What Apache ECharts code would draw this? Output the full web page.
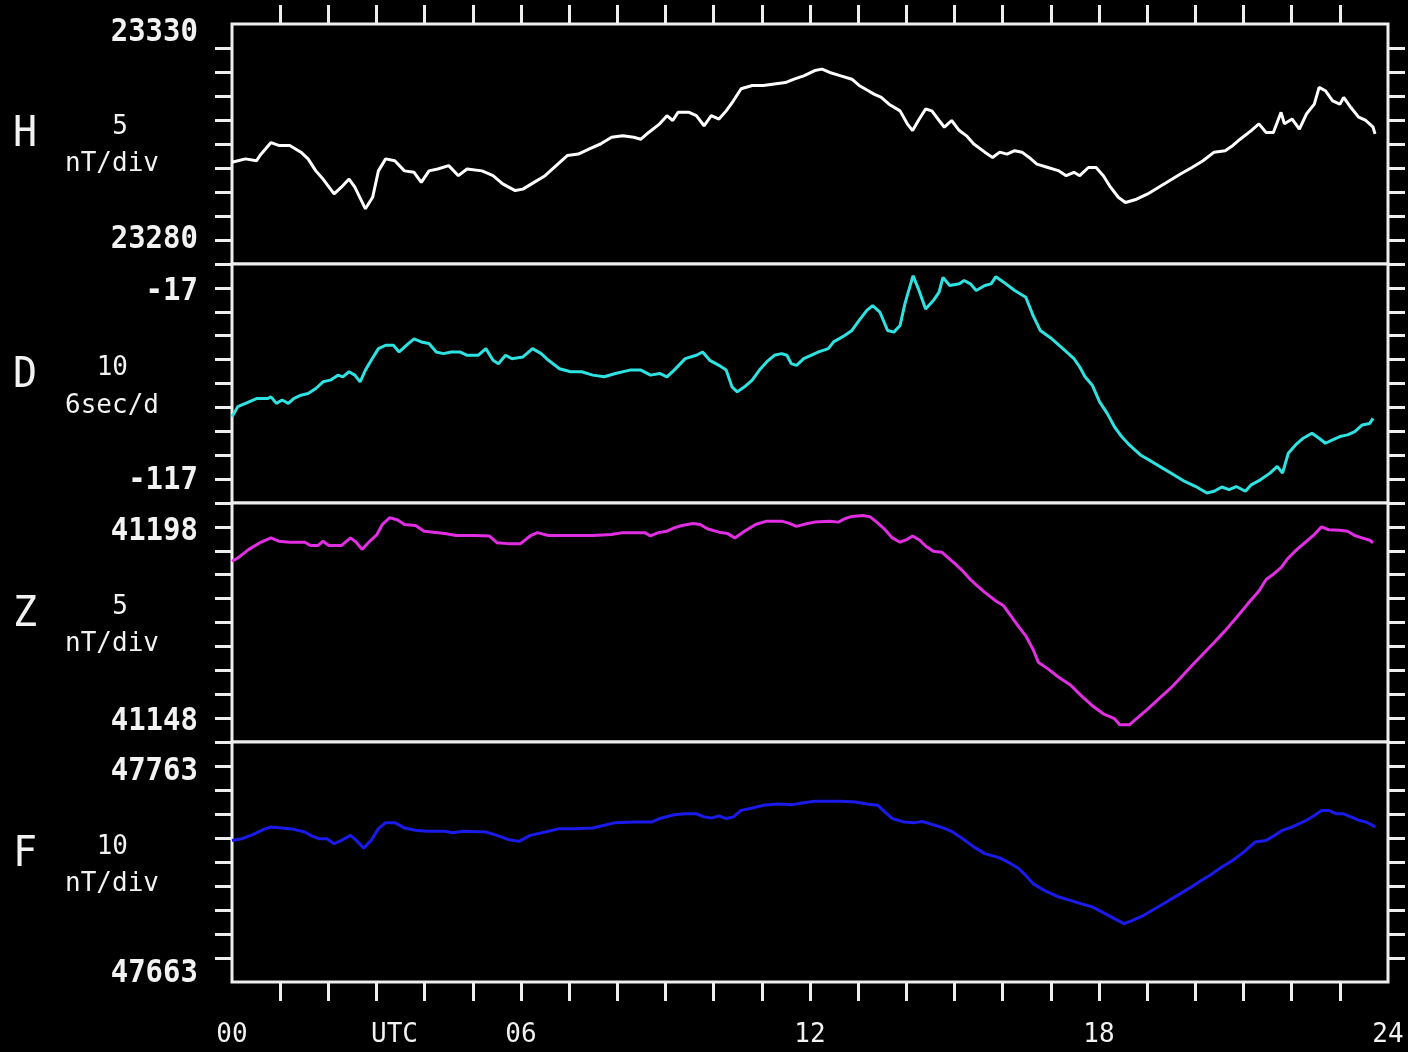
<!DOCTYPE html>
<html>
<head>
<meta charset="utf-8">
<script src="https://cdn.jsdelivr.net/npm/echarts@6/dist/echarts.min.js"></script>
<style>
  html, body { margin: 0; padding: 0; background: #000; }
  #chart { width: 1408px; height: 1052px; }
</style>
</head>
<body>
<div id="chart"></div>
<script>
// Magnetometer components, one panel each
const componentNames = ['H', 'D', 'Z', 'F'];
const scaleSteps = ['5', '10', '5', '10'];
const scaleUnits = ['nT/div', '6sec/d', 'nT/div', 'nT/div'];
const topLabels = ['23330', '-17', '41198', '47763'];
const bottomLabels = ['23280', '-117', '41148', '47663'];

// Time axis (hours UTC)
const hourTicks = [0, 3, 6, 12, 18, 24];
const hourLabels = ['00', 'UTC', '06', '12', '18', '24'];

// [hour, value] readings
const hReadings = [
  [0,23301.2],[0.28,23301.9],[0.51,23301.5],[0.58,23302.6],[0.81,23305.3],[0.97,23304.7],[1.20,23304.7],[1.43,23303.3],[1.58,23301.9],[1.74,23299.4],
  [1.89,23297.7],[2.12,23294.6],[2.27,23296.0],[2.43,23297.7],[2.55,23296.0],[2.77,23291.5],[2.92,23293.9],[3.04,23299.4],[3.19,23301.9],[3.38,23301.5],
  [3.58,23299.4],[3.78,23299.1],[3.93,23297.0],[4.09,23299.4],[4.27,23299.8],[4.50,23300.5],[4.70,23298.4],[4.88,23299.8],[5.19,23299.4],[5.42,23298.4],
  [5.62,23296.7],[5.88,23295.3],[6.04,23295.6],[6.27,23297.0],[6.50,23298.4],[6.73,23300.5],[6.96,23302.6],[7.19,23302.9],[7.42,23304.0],[7.65,23305.0],
  [7.88,23306.4],[8.11,23306.7],[8.34,23306.4],[8.49,23306.0],[8.65,23307.4],[8.88,23309.2],[9.03,23310.9],[9.15,23309.9],[9.26,23311.6],[9.49,23311.6],
  [9.64,23310.9],[9.80,23308.8],[9.95,23310.9],[10.11,23310.2],[10.26,23311.9],[10.41,23314.0],[10.57,23316.5],[10.80,23317.2],[11.03,23317.2],[11.26,23317.5],
  [11.49,23317.8],[11.67,23318.5],[11.87,23319.2],[12.10,23320.3],[12.25,23320.6],[12.41,23319.9],[12.64,23319.2],[12.87,23318.5],[13.02,23317.2],[13.21,23316.1],
  [13.33,23315.4],[13.48,23314.7],[13.64,23313.3],[13.87,23311.9],[14.02,23309.2],[14.13,23307.8],[14.25,23309.9],[14.40,23312.3],[14.53,23311.9],[14.68,23309.9],
  [14.79,23308.5],[14.94,23309.9],[15.10,23307.8],[15.25,23306.7],[15.40,23305.0],[15.63,23303.3],[15.79,23302.2],[15.94,23303.3],[16.09,23302.9],[16.25,23303.6],
  [16.40,23303.3],[16.55,23302.2],[16.71,23300.8],[16.94,23300.1],[17.17,23299.4],[17.32,23298.4],[17.48,23299.1],[17.60,23298.4],[17.78,23300.1],[17.94,23300.1],
  [18.09,23298.4],[18.24,23296.0],[18.40,23293.9],[18.55,23292.8],[18.78,23293.5],[19.01,23294.6],[19.24,23296.0],[19.47,23297.4],[19.70,23298.8],[19.93,23300.1],
  [20.16,23301.5],[20.39,23303.3],[20.62,23303.6],[20.78,23304.7],[20.93,23306.0],[21.16,23307.8],[21.32,23309.2],[21.47,23307.4],[21.62,23307.4],[21.78,23311.6],
  [21.85,23309.2],[22.01,23310.2],[22.16,23308.1],[22.31,23311.3],[22.47,23313.3],[22.57,23316.8],[22.70,23316.1],[22.85,23314.0],[23.00,23313.3],[23.08,23314.7],
  [23.23,23312.6],[23.39,23310.6],[23.54,23309.9],[23.69,23308.5],[23.73,23307.1]
];

const dReadings = [
  [0,-80.9],[0.12,-76.7],[0.28,-75.3],[0.51,-73.3],[0.74,-73.3],[0.81,-72.6],[0.92,-75.3],[1.04,-73.9],[1.17,-75.3],[1.28,-73.3],
  [1.43,-71.9],[1.58,-71.2],[1.74,-69.1],[1.89,-66.3],[2.04,-65.6],[2.20,-63.5],[2.30,-64.2],[2.43,-62.1],[2.55,-63.5],[2.66,-66.3],
  [2.77,-61.4],[2.89,-57.3],[3.04,-52.4],[3.19,-51.0],[3.35,-51.0],[3.47,-53.8],[3.66,-50.3],[3.78,-48.3],[3.93,-49.6],[4.09,-50.3],
  [4.24,-53.8],[4.39,-54.5],[4.55,-53.8],[4.73,-53.8],[4.88,-55.2],[5.11,-55.2],[5.27,-52.4],[5.42,-57.3],[5.53,-58.7],[5.68,-55.2],
  [5.81,-56.6],[6.04,-55.9],[6.24,-52.4],[6.42,-54.5],[6.57,-57.3],[6.80,-60.8],[7.03,-62.1],[7.26,-62.1],[7.49,-63.5],[7.73,-64.2],
  [7.96,-62.8],[8.26,-61.4],[8.49,-61.4],[8.69,-63.5],[8.88,-62.8],[9.03,-64.2],[9.18,-61.4],[9.41,-56.6],[9.64,-55.2],[9.77,-53.8],
  [9.92,-57.3],[10.11,-59.4],[10.26,-61.4],[10.38,-68.4],[10.49,-70.5],[10.64,-68.4],[10.80,-65.6],[10.95,-61.4],[11.10,-58.0],[11.26,-55.2],
  [11.41,-54.5],[11.52,-55.2],[11.61,-58.7],[11.72,-59.4],[11.87,-56.6],[12.02,-55.2],[12.18,-53.8],[12.38,-52.4],[12.49,-49.6],[12.72,-46.9],
  [12.87,-44.8],[13.02,-40.6],[13.18,-36.4],[13.30,-34.4],[13.45,-37.1],[13.61,-44.8],[13.74,-45.5],[13.87,-42.7],[13.97,-33.7],[14.07,-26.7],
  [14.14,-21.9],[14.25,-27.4],[14.40,-35.8],[14.56,-32.3],[14.68,-28.8],[14.76,-22.6],[14.90,-26.0],[15.10,-25.3],[15.20,-23.9],[15.33,-25.3],
  [15.45,-28.1],[15.63,-26.0],[15.76,-25.3],[15.86,-22.3],[16.02,-24.6],[16.25,-28.1],[16.48,-30.9],[16.63,-38.5],[16.78,-44.8],[17.02,-48.3],
  [17.25,-52.4],[17.48,-56.6],[17.60,-60.1],[17.71,-64.2],[17.86,-67.7],[18.01,-74.6],[18.17,-79.5],[18.32,-85.1],[18.47,-89.2],[18.63,-92.7],
  [18.86,-96.9],[19.09,-99.6],[19.32,-102.4],[19.55,-105.2],[19.78,-108.0],[20.01,-110.1],[20.24,-112.8],[20.39,-112.1],[20.55,-110.3],[20.70,-111.4],
  [20.85,-110.1],[21.04,-112.1],[21.16,-109.4],[21.35,-107.3],[21.55,-104.5],[21.70,-101.7],[21.81,-104.5],[21.93,-96.2],[22.08,-92.7],[22.24,-89.9],
  [22.42,-87.8],[22.57,-89.9],[22.70,-92.0],[22.85,-90.6],[23.00,-89.2],[23.16,-88.5],[23.31,-87.1],[23.46,-84.4],[23.62,-83.7],[23.69,-81.6]
];

const zReadings = [
  [0,41185.8],[0.12,41186.5],[0.35,41188.3],[0.58,41189.7],[0.81,41190.7],[0.97,41190.0],[1.20,41189.8],[1.51,41189.8],[1.63,41189.1],[1.78,41189.1],
  [1.89,41190.0],[2.01,41189.1],[2.27,41189.1],[2.46,41190.7],[2.58,41189.8],[2.70,41188.3],[2.86,41190.0],[3.01,41191.4],[3.12,41193.5],[3.27,41194.9],
  [3.43,41194.5],[3.58,41193.5],[3.81,41193.3],[3.99,41192.1],[4.19,41191.9],[4.42,41191.6],[4.65,41191.2],[5.04,41191.2],[5.34,41191.1],[5.50,41189.7],
  [5.73,41189.5],[5.99,41189.5],[6.19,41191.1],[6.34,41191.8],[6.57,41191.2],[7.03,41191.2],[7.49,41191.2],[7.88,41191.4],[8.11,41191.8],[8.34,41191.8],
  [8.57,41191.8],[8.69,41191.1],[8.85,41191.8],[9.03,41192.1],[9.18,41192.8],[9.34,41193.3],[9.57,41193.7],[9.72,41193.5],[9.87,41192.6],[10.11,41191.9],
  [10.29,41191.6],[10.44,41190.7],[10.64,41192.1],[10.87,41193.5],[11.10,41194.2],[11.41,41194.2],[11.56,41193.8],[11.72,41193.1],[11.95,41193.7],[12.10,41194.0],
  [12.41,41194.2],[12.59,41194.0],[12.72,41194.7],[12.87,41195.2],[13.10,41195.4],[13.25,41195.1],[13.41,41193.8],[13.56,41192.4],[13.71,41190.7],[13.87,41189.8],
  [14.02,41190.4],[14.13,41191.1],[14.28,41190.2],[14.40,41189.0],[14.56,41187.9],[14.74,41187.7],[14.87,41186.5],[15.02,41185.2],[15.17,41183.8],[15.33,41182.0],
  [15.48,41180.6],[15.63,41179.3],[15.86,41177.5],[16.02,41176.5],[16.17,41174.4],[16.32,41172.3],[16.48,41170.2],[16.63,41167.4],[16.74,41164.7],[16.94,41163.3],
  [17.17,41161.5],[17.40,41160.0],[17.63,41157.7],[17.86,41155.6],[18.09,41153.9],[18.32,41152.9],[18.43,41151.6],[18.63,41151.6],[18.78,41152.9],[19.01,41154.9],
  [19.24,41157.0],[19.47,41159.1],[19.70,41161.5],[19.93,41164.0],[20.16,41166.4],[20.39,41168.8],[20.62,41171.3],[20.85,41174.0],[21.08,41176.8],[21.32,41179.6],
  [21.47,41182.0],[21.62,41183.1],[21.78,41184.5],[21.93,41186.5],[22.11,41188.3],[22.31,41190.0],[22.47,41191.4],[22.62,41193.0],[22.77,41192.4],[23.00,41192.3],
  [23.16,41192.1],[23.31,41191.2],[23.46,41190.7],[23.62,41190.2],[23.69,41189.7]
];

const fReadings = [
  [0,47722.0],[0.20,47722.7],[0.43,47724.4],[0.66,47726.6],[0.81,47727.6],[1.04,47727.2],[1.28,47726.6],[1.51,47725.5],[1.66,47723.8],[1.81,47722.7],
  [1.97,47722.7],[2.12,47720.6],[2.27,47722.0],[2.46,47724.1],[2.58,47722.0],[2.73,47718.8],[2.89,47722.0],[3.04,47726.9],[3.19,47729.4],[3.38,47729.4],
  [3.58,47727.2],[3.81,47726.2],[4.04,47725.8],[4.42,47725.8],[4.58,47725.2],[4.81,47725.8],[5.27,47725.5],[5.50,47724.1],[5.73,47722.4],[5.96,47721.6],
  [6.19,47724.1],[6.50,47725.5],[6.80,47726.9],[7.11,47726.9],[7.49,47727.2],[7.73,47728.3],[7.96,47729.4],[8.34,47729.7],[8.72,47729.7],[8.88,47731.1],
  [9.18,47732.7],[9.41,47733.1],[9.64,47733.1],[9.80,47731.8],[9.95,47731.3],[10.11,47732.2],[10.26,47731.1],[10.41,47731.8],[10.57,47734.5],[10.80,47735.5],
  [11.03,47736.6],[11.33,47737.2],[11.64,47736.9],[11.87,47737.7],[12.10,47738.3],[12.33,47738.3],[12.64,47738.3],[12.95,47738.0],[13.18,47737.2],[13.41,47736.6],
  [13.56,47733.8],[13.71,47731.1],[13.94,47729.7],[14.17,47729.4],[14.33,47729.9],[14.48,47729.0],[14.71,47727.6],[14.94,47725.8],[15.17,47722.7],[15.40,47719.3],
  [15.63,47716.5],[15.94,47714.7],[16.17,47712.3],[16.32,47710.5],[16.48,47707.4],[16.63,47704.0],[16.86,47701.2],[17.17,47698.4],[17.40,47697.0],[17.63,47695.6],
  [17.86,47694.3],[18.09,47691.9],[18.32,47689.4],[18.52,47687.3],[18.70,47688.7],[18.93,47690.8],[19.17,47693.6],[19.40,47696.3],[19.63,47699.1],[19.86,47701.9],
  [20.09,47704.9],[20.32,47707.7],[20.55,47710.9],[20.78,47713.7],[21.01,47717.2],[21.24,47721.3],[21.47,47722.0],[21.65,47724.1],[21.81,47726.2],[22.01,47727.6],
  [22.16,47729.0],[22.31,47730.4],[22.47,47732.4],[22.62,47734.5],[22.77,47734.5],[22.93,47733.1],[23.08,47733.1],[23.23,47731.8],[23.39,47730.4],[23.54,47729.7],
  [23.74,47727.6]
];

const readings = [hReadings, dReadings, zReadings, fReadings];
const traceColors = ['#ffffff', '#2ee2e2', '#e22ee2', '#1a1aea'];

// ---- layout ----
const MONO = '"DejaVu Sans Mono", "Liberation Mono", monospace';
const FRAME = '#eeeeee';
const TEXT = '#f2f2f2';
const LEFT = 232, WIDTH = 1156;
const panelTops = [24, 264, 503, 742];
const panelHeights = [240, 239, 239, 240];
const DIVS = 10;
const topLabelY = [33, 292, 532, 772];
const bottomLabelY = [240, 481, 722, 974];
const nameY = [135, 376, 615, 855];
const stepY = [127, 368, 607, 847];
const unitY = [164, 406, 644, 884];

const chart = echarts.init(document.getElementById('chart'), null, { renderer: 'canvas' });

const grids = [], xAxes = [], yAxes = [], series = [], graphics = [];
const innerHours = [];
for (let h = 1; h < 24; h++) innerHours.push(h);

function label(text, x, y, font, align, sy) {
  return {
    type: 'text', x: x, y: y, scaleY: sy || 1,
    style: { text: text, font: font, fill: TEXT, align: align, verticalAlign: 'middle' }
  };
}

componentNames.forEach((name, i) => {
  const vMin = Number(bottomLabels[i]);
  const vMax = Number(topLabels[i]);
  const step = (vMax - vMin) / DIVS;
  // division ticks: the outer edges of the stack carry none
  const kFrom = i === componentNames.length - 1 ? 1 : 0;
  const kTo = i === 0 ? DIVS - 1 : DIVS;
  const divTicks = [];
  for (let k = kFrom; k <= kTo; k++) divTicks.push(vMin + k * step);

  grids.push({
    left: LEFT, width: WIDTH, top: panelTops[i], height: panelHeights[i],
    show: true, borderColor: FRAME, borderWidth: 3, backgroundColor: '#000'
  });

  const isTop = i === 0, isBottom = i === componentNames.length - 1;
  xAxes.push({
    gridIndex: i, type: 'value', min: 0, max: 24, interval: 1,
    position: isTop ? 'top' : 'bottom',
    show: isTop || isBottom,
    axisLine: { show: false },
    axisTick: {
      show: isTop || isBottom, inside: false, length: 19,
      customValues: innerHours,
      lineStyle: { color: FRAME, width: 3 }
    },
    axisLabel: {
      show: isBottom, margin: 40,
      customValues: hourTicks,
      fontFamily: MONO, fontSize: 26, color: TEXT,
      formatter: (v) => {
        const k = hourTicks.indexOf(v);
        const txt = k >= 0 ? hourLabels[k] : '';
        return txt === 'UTC' ? '{shift|' + txt + '}' : txt;
      },
      rich: { shift: { fontFamily: MONO, fontSize: 26, color: TEXT, padding: [0, 0, 0, 36] } }
    },
    splitLine: { show: false }
  });

  ['left', 'right'].forEach((side) => {
    yAxes.push({
      gridIndex: i, type: 'value', position: side,
      min: vMin, max: vMax, interval: step,
      axisLine: { show: false },
      axisTick: {
        show: true, inside: false, length: 17,
        customValues: divTicks,
        lineStyle: { color: FRAME, width: 3 }
      },
      axisLabel: { show: false },
      splitLine: { show: false }
    });
  });

  series.push({
    type: 'line', name: name,
    xAxisIndex: i, yAxisIndex: i * 2,
    data: readings[i],
    showSymbol: false, symbol: 'none',
    lineStyle: { color: traceColors[i], width: 3 },
    clip: true, animation: false
  });

  // panel annotations
  graphics.push(
    label(name, 25, nameY[i], '40px ' + MONO, 'center', 1.05),
    label(scaleSteps[i], 128, stepY[i], '26px ' + MONO, 'right', 1.05),
    label(scaleUnits[i], 112, unitY[i], '26px ' + MONO, 'center', 1.05),
    label(topLabels[i], 198, topLabelY[i], 'bold 29px ' + MONO, 'right', 1.12),
    label(bottomLabels[i], 198, bottomLabelY[i], 'bold 29px ' + MONO, 'right', 1.12)
  );
});

chart.setOption({
  backgroundColor: '#000000',
  animation: false,
  grid: grids,
  xAxis: xAxes,
  yAxis: yAxes,
  series: series,
  graphic: graphics
});
</script>
</body>
</html>
